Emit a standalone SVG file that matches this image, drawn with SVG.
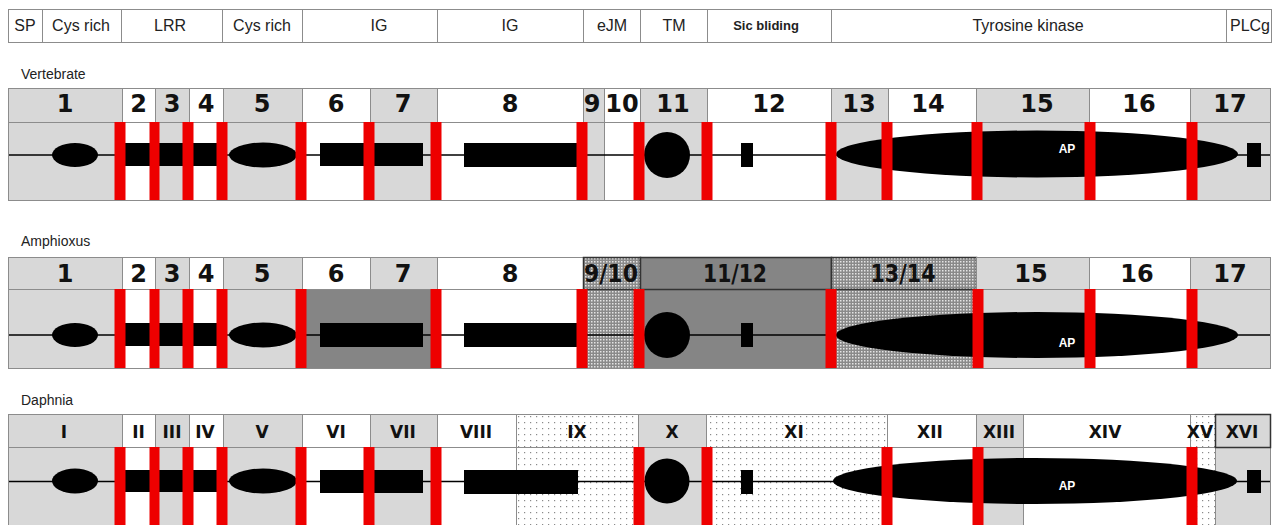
<svg xmlns="http://www.w3.org/2000/svg" width="1276" height="525" viewBox="0 0 1276 525">
<style>
.g{fill:#d8d8d8;stroke:#8c8c8c;stroke-width:1}
.w{fill:#fff;stroke:#8c8c8c;stroke-width:1}
.dk{fill:#858585;stroke:#8c8c8c;stroke-width:1}
.dd{fill:url(#dd);stroke:#8c8c8c;stroke-width:1}
.ld{fill:url(#ld);stroke:#8c8c8c;stroke-width:1}
.bd{stroke:#333;stroke-width:1.5}
.hd{font-family:"Liberation Sans",Arial,sans-serif;font-size:16px;text-anchor:middle;fill:#222}
.lab{font-family:"Liberation Sans",Arial,sans-serif;font-size:14px;fill:#222}
.num{font-family:"DejaVu Sans",sans-serif;font-weight:bold;font-size:24px;text-anchor:middle;fill:#111}
.rom{font-family:"DejaVu Sans",sans-serif;font-weight:bold;font-size:17px;text-anchor:middle;fill:#111}
.ap{font-family:"Liberation Sans",Arial,sans-serif;font-weight:bold;font-size:12px;text-anchor:middle;fill:#fff}
.red{fill:#ee0000}
.blk{fill:#000}
.ln{stroke:#000;stroke-width:1.5;fill:none}
</style>
<defs>
<pattern id="dd" width="3" height="3" patternUnits="userSpaceOnUse"><rect width="3" height="3" fill="#8a8a8a"/><rect width="1.5" height="1.5" fill="#e4e4e4"/></pattern>
<pattern id="ld" width="6" height="6" patternUnits="userSpaceOnUse"><rect width="6" height="6" fill="#fff"/><rect x="2" y="2" width="1.2" height="1.2" fill="#8a8a8a"/></pattern>
</defs>
<rect width="1276" height="525" fill="#fff"/>

<!-- Domain header -->
<g id="domains">
<g id="d-sp"><rect class="w" x="8.5" y="9.5" width="34" height="33"/><text class="hd" x="25" y="31">SP</text></g>
<g id="d-cys1"><rect class="w" x="42.5" y="9.5" width="79" height="33"/><text class="hd" x="81" y="31">Cys rich</text></g>
<g id="d-lrr"><rect class="w" x="121.5" y="9.5" width="101" height="33"/><text class="hd" x="170" y="31">LRR</text></g>
<g id="d-cys2"><rect class="w" x="222.5" y="9.5" width="80" height="33"/><text class="hd" x="262" y="31">Cys rich</text></g>
<g id="d-ig1"><rect class="w" x="302.5" y="9.5" width="135" height="33"/><text class="hd" x="379" y="31">IG</text></g>
<g id="d-ig2"><rect class="w" x="437.5" y="9.5" width="146" height="33"/><text class="hd" x="510" y="31">IG</text></g>
<g id="d-ejm"><rect class="w" x="583.5" y="9.5" width="57" height="33"/><text class="hd" x="612" y="31">eJM</text></g>
<g id="d-tm"><rect class="w" x="640.5" y="9.5" width="67" height="33"/><text class="hd" x="674" y="31">TM</text></g>
<g id="d-sic"><rect class="w" x="707.5" y="9.5" width="124" height="33"/><text class="hd" x="766" y="30" style="font-weight:bold;font-size:13px">Sic bliding</text></g>
<g id="d-tk"><rect class="w" x="831.5" y="9.5" width="395" height="33"/><text class="hd" x="1028" y="31">Tyrosine kinase</text></g>
<g id="d-plcg"><rect class="w" x="1226.5" y="9.5" width="45" height="33"/><text class="hd" x="1250" y="31">PLCg</text></g>
</g>

<text class="lab" x="21" y="79">Vertebrate</text>
<text class="lab" x="21" y="246">Amphioxus</text>
<text class="lab" x="21" y="405">Daphnia</text>

<!-- Vertebrate -->
<g id="vertebrate">
<g id="v-1"><rect class="g" x="8.5" y="88.5" width="114" height="34"/><rect class="g" x="8.5" y="122.5" width="114" height="78"/><text class="num" x="65" y="112">1</text></g>
<g id="v-2"><rect class="w" x="122.5" y="88.5" width="33" height="34"/><rect class="w" x="122.5" y="122.5" width="33" height="78"/><text class="num" x="138.5" y="112">2</text></g>
<g id="v-3"><rect class="g" x="155.5" y="88.5" width="34" height="34"/><rect class="g" x="155.5" y="122.5" width="34" height="78"/><text class="num" x="172" y="112">3</text></g>
<g id="v-4"><rect class="w" x="189.5" y="88.5" width="34" height="34"/><rect class="w" x="189.5" y="122.5" width="34" height="78"/><text class="num" x="206" y="112">4</text></g>
<g id="v-5"><rect class="g" x="223.5" y="88.5" width="79" height="34"/><rect class="g" x="223.5" y="122.5" width="79" height="78"/><text class="num" x="262" y="112">5</text></g>
<g id="v-6"><rect class="w" x="302.5" y="88.5" width="68" height="34"/><rect class="w" x="302.5" y="122.5" width="68" height="78"/><text class="num" x="336" y="112">6</text></g>
<g id="v-7"><rect class="g" x="370.5" y="88.5" width="67" height="34"/><rect class="g" x="370.5" y="122.5" width="67" height="78"/><text class="num" x="403" y="112">7</text></g>
<g id="v-8"><rect class="w" x="437.5" y="88.5" width="146" height="34"/><rect class="w" x="437.5" y="122.5" width="146" height="78"/><text class="num" x="510" y="112">8</text></g>
<g id="v-9"><rect class="g" x="583.5" y="88.5" width="21" height="34"/><rect class="g" x="583.5" y="122.5" width="21" height="78"/><text class="num" x="592" y="112">9</text></g>
<g id="v-10"><rect class="w" x="604.5" y="88.5" width="36" height="34"/><rect class="w" x="604.5" y="122.5" width="36" height="78"/><text class="num" x="622" y="112">10</text></g>
<g id="v-11"><rect class="g" x="640.5" y="88.5" width="67" height="34"/><rect class="g" x="640.5" y="122.5" width="67" height="78"/><text class="num" x="673" y="112">11</text></g>
<g id="v-12"><rect class="w" x="707.5" y="88.5" width="124" height="34"/><rect class="w" x="707.5" y="122.5" width="124" height="78"/><text class="num" x="769" y="112">12</text></g>
<g id="v-13"><rect class="g" x="831.5" y="88.5" width="57" height="34"/><rect class="g" x="831.5" y="122.5" width="57" height="78"/><text class="num" x="859" y="112">13</text></g>
<g id="v-14"><rect class="w" x="888.5" y="88.5" width="88" height="34"/><rect class="w" x="888.5" y="122.5" width="88" height="78"/><text class="num" x="928" y="112">14</text></g>
<g id="v-15"><rect class="g" x="976.5" y="88.5" width="113" height="34"/><rect class="g" x="976.5" y="122.5" width="113" height="78"/><text class="num" x="1037" y="112">15</text></g>
<g id="v-16"><rect class="w" x="1089.5" y="88.5" width="101" height="34"/><rect class="w" x="1089.5" y="122.5" width="101" height="78"/><text class="num" x="1139" y="112">16</text></g>
<g id="v-17"><rect class="g" x="1190.5" y="88.5" width="80" height="34"/><rect class="g" x="1190.5" y="122.5" width="80" height="78"/><text class="num" x="1230" y="112">17</text></g>
</g>

<!-- Amphioxus -->
<g id="amphioxus">
<g id="a-1"><rect class="g" x="8.5" y="257.5" width="114" height="32"/><rect class="g" x="8.5" y="289.5" width="114" height="79"/><text class="num" x="65" y="282">1</text></g>
<g id="a-2"><rect class="w" x="122.5" y="257.5" width="33" height="32"/><rect class="w" x="122.5" y="289.5" width="33" height="79"/><text class="num" x="138.5" y="282">2</text></g>
<g id="a-3"><rect class="g" x="155.5" y="257.5" width="34" height="32"/><rect class="g" x="155.5" y="289.5" width="34" height="79"/><text class="num" x="172" y="282">3</text></g>
<g id="a-4"><rect class="w" x="189.5" y="257.5" width="34" height="32"/><rect class="w" x="189.5" y="289.5" width="34" height="79"/><text class="num" x="206" y="282">4</text></g>
<g id="a-5"><rect class="g" x="223.5" y="257.5" width="79" height="32"/><rect class="g" x="223.5" y="289.5" width="79" height="79"/><text class="num" x="262" y="282">5</text></g>
<g id="a-6"><rect class="w" x="302.5" y="257.5" width="68" height="32"/><rect class="dk" x="302.5" y="289.5" width="135" height="79"/><text class="num" x="336" y="282">6</text></g>
<g id="a-7"><rect class="g" x="370.5" y="257.5" width="67" height="32"/><text class="num" x="403" y="282">7</text></g>
<g id="a-8"><rect class="w" x="437.5" y="257.5" width="146" height="32"/><rect class="w" x="437.5" y="289.5" width="146" height="79"/><text class="num" x="510" y="282">8</text></g>
<g id="a-9-10"><rect class="dd" x="583.5" y="289.5" width="57" height="79"/><rect class="dd bd" x="583.5" y="257.5" width="57" height="32"/><text class="num" x="611" y="282" textLength="54" lengthAdjust="spacingAndGlyphs">9/10</text></g>
<g id="a-11-12"><rect class="dk" x="640.5" y="289.5" width="191" height="79"/><rect class="dk bd" x="640.5" y="257.5" width="191" height="32"/><text class="num" x="735" y="282" textLength="64" lengthAdjust="spacingAndGlyphs">11/12</text></g>
<g id="a-13-14"><rect class="dd" x="831.5" y="289.5" width="145" height="79"/><rect class="dd bd" x="831.5" y="257.5" width="145" height="32"/><text class="num" x="903" y="282" textLength="65" lengthAdjust="spacingAndGlyphs">13/14</text></g>
<g id="a-15"><rect class="g" x="976.5" y="257.5" width="113" height="32"/><rect class="g" x="976.5" y="289.5" width="113" height="79"/><text class="num" x="1031" y="282">15</text></g>
<g id="a-16"><rect class="w" x="1089.5" y="257.5" width="101" height="32"/><rect class="w" x="1089.5" y="289.5" width="101" height="79"/><text class="num" x="1137" y="282">16</text></g>
<g id="a-17"><rect class="g" x="1190.5" y="257.5" width="80" height="32"/><rect class="g" x="1190.5" y="289.5" width="80" height="79"/><text class="num" x="1230" y="282">17</text></g>
</g>

<!-- Daphnia -->
<g id="daphnia">
<g id="d-I"><rect class="g" x="8.5" y="414.5" width="114" height="33"/><rect class="g" x="8.5" y="447.5" width="114" height="90"/><text class="rom" x="64" y="438">I</text></g>
<g id="d-II"><rect class="w" x="122.5" y="414.5" width="33" height="33"/><rect class="w" x="122.5" y="447.5" width="33" height="90"/><text class="rom" x="138.5" y="438">II</text></g>
<g id="d-III"><rect class="g" x="155.5" y="414.5" width="34" height="33"/><rect class="g" x="155.5" y="447.5" width="34" height="90"/><text class="rom" x="172" y="438">III</text></g>
<g id="d-IV"><rect class="w" x="189.5" y="414.5" width="34" height="33"/><rect class="w" x="189.5" y="447.5" width="34" height="90"/><text class="rom" x="205" y="438">IV</text></g>
<g id="d-V"><rect class="g" x="223.5" y="414.5" width="79" height="33"/><rect class="g" x="223.5" y="447.5" width="79" height="90"/><text class="rom" x="262" y="438">V</text></g>
<g id="d-VI"><rect class="w" x="302.5" y="414.5" width="68" height="33"/><rect class="w" x="302.5" y="447.5" width="68" height="90"/><text class="rom" x="336" y="438">VI</text></g>
<g id="d-VII"><rect class="g" x="370.5" y="414.5" width="67" height="33"/><rect class="g" x="370.5" y="447.5" width="67" height="90"/><text class="rom" x="403" y="438">VII</text></g>
<g id="d-VIII"><rect class="w" x="437.5" y="414.5" width="79" height="33"/><rect class="w" x="437.5" y="447.5" width="79" height="90"/><text class="rom" x="476" y="438">VIII</text></g>
<g id="d-IX"><rect class="ld" x="516.5" y="414.5" width="122" height="33"/><rect class="ld" x="516.5" y="447.5" width="122" height="90"/><text class="rom" x="577" y="438">IX</text></g>
<g id="d-X"><rect class="g" x="638.5" y="414.5" width="68" height="33"/><rect class="g" x="638.5" y="447.5" width="68" height="90"/><text class="rom" x="672" y="438">X</text></g>
<g id="d-XI"><rect class="ld" x="706.5" y="414.5" width="181" height="33"/><rect class="ld" x="706.5" y="447.5" width="181" height="90"/><text class="rom" x="794" y="438">XI</text></g>
<g id="d-XII"><rect class="w" x="887.5" y="414.5" width="89" height="33"/><rect class="w" x="887.5" y="447.5" width="89" height="90"/><text class="rom" x="930" y="438">XII</text></g>
<g id="d-XIII"><rect class="g" x="976.5" y="414.5" width="47" height="33"/><rect class="g" x="976.5" y="447.5" width="47" height="90"/><text class="rom" x="999" y="438">XIII</text></g>
<g id="d-XIV"><rect class="w" x="1023.5" y="414.5" width="167" height="33"/><rect class="w" x="1023.5" y="447.5" width="167" height="90"/><text class="rom" x="1105" y="438">XIV</text></g>
<g id="d-XV"><rect class="ld" x="1190.5" y="414.5" width="25" height="33"/><rect class="ld" x="1190.5" y="447.5" width="25" height="90"/><text class="rom" x="1200" y="438">XV</text></g>
<g id="d-XVI"><rect class="g" x="1215.5" y="447.5" width="55" height="90"/><rect class="g bd" x="1215.5" y="414.5" width="55" height="33"/><text class="rom" x="1242" y="438">XVI</text></g>
</g>

<!-- Connectors: backbone lines -->
<g id="connectors">
<line class="ln" x1="9" y1="155" x2="1270" y2="155"/>
<line class="ln" x1="9" y1="335" x2="1270" y2="335"/>
<line class="ln" x1="9" y1="481.5" x2="1270" y2="481.5"/>
</g>

<!-- Protein domain shapes -->
<g id="v-shapes" class="blk">
<ellipse cx="75" cy="155" rx="23" ry="12"/>
<rect x="121" y="143" width="100" height="23"/>
<ellipse cx="263" cy="155" rx="34" ry="12.5"/>
<rect x="320" y="143" width="103" height="23"/>
<rect x="464" y="143" width="113" height="24"/>
<circle cx="667" cy="155" r="23"/>
<rect x="741" y="143" width="12" height="24"/>
<ellipse cx="1037" cy="154" rx="201" ry="23.5"/>
<rect x="1247" y="143" width="14" height="24"/>
</g>
<g id="a-shapes" class="blk">
<ellipse cx="75" cy="335" rx="23" ry="12"/>
<rect x="121" y="323" width="100" height="23"/>
<ellipse cx="263" cy="335" rx="34" ry="12.5"/>
<rect x="320" y="323" width="103" height="24"/>
<rect x="464" y="323" width="113" height="24"/>
<circle cx="667" cy="335" r="23"/>
<rect x="741" y="323" width="12" height="24"/>
<ellipse cx="1037" cy="335" rx="201" ry="23"/>
</g>
<g id="d-shapes" class="blk">
<ellipse cx="75" cy="481" rx="23" ry="12.5"/>
<rect x="121" y="470" width="100" height="22"/>
<ellipse cx="263" cy="481" rx="34" ry="12.5"/>
<rect x="320" y="470" width="103" height="23"/>
<rect x="464" y="470" width="114" height="24"/>
<circle cx="667" cy="481" r="22.5"/>
<rect x="741" y="470" width="12" height="24"/>
<ellipse cx="1035" cy="481" rx="202" ry="23"/>
<rect x="1247" y="470" width="14" height="23"/>
</g>

<!-- Introns (red bars) -->
<g id="v-introns" class="red">
<rect x="114.5" y="122" width="11" height="78"/>
<rect x="149.5" y="122" width="10" height="78"/>
<rect x="182.5" y="122" width="11" height="78"/>
<rect x="216.5" y="122" width="11" height="78"/>
<rect x="295.5" y="122" width="11" height="78"/>
<rect x="363.5" y="122" width="11" height="78"/>
<rect x="430.5" y="122" width="11" height="78"/>
<rect x="576.5" y="122" width="11" height="78"/>
<rect x="633.5" y="122" width="11" height="78"/>
<rect x="701.5" y="122" width="11" height="78"/>
<rect x="825.5" y="122" width="11" height="78"/>
<rect x="881.5" y="122" width="11" height="78"/>
<rect x="971.5" y="122" width="11" height="78"/>
<rect x="1084.5" y="122" width="11" height="78"/>
<rect x="1186.5" y="122" width="11" height="78"/>
</g>
<g id="a-introns" class="red">
<rect x="114.5" y="289" width="11" height="79"/>
<rect x="149.5" y="289" width="10" height="79"/>
<rect x="182.5" y="289" width="11" height="79"/>
<rect x="216.5" y="289" width="11" height="79"/>
<rect x="295.5" y="289" width="11" height="79"/>
<rect x="430.5" y="289" width="11" height="79"/>
<rect x="576.5" y="289" width="11" height="79"/>
<rect x="633.5" y="289" width="11" height="79"/>
<rect x="825.5" y="289" width="11" height="79"/>
<rect x="972.5" y="289" width="11" height="79"/>
<rect x="1084.5" y="289" width="11" height="79"/>
<rect x="1186.5" y="289" width="11" height="79"/>
</g>
<g id="d-introns" class="red">
<rect x="114.5" y="447" width="11" height="80"/>
<rect x="149.5" y="447" width="10" height="80"/>
<rect x="182.5" y="447" width="11" height="80"/>
<rect x="216.5" y="447" width="11" height="80"/>
<rect x="295.5" y="447" width="11" height="80"/>
<rect x="363.5" y="447" width="11" height="80"/>
<rect x="430.5" y="447" width="11" height="80"/>
<rect x="633.5" y="447" width="11" height="80"/>
<rect x="701.5" y="447" width="11" height="80"/>
<rect x="881.5" y="447" width="11" height="80"/>
<rect x="972.5" y="447" width="11" height="80"/>
<rect x="1186.5" y="447" width="11" height="80"/>
</g>

<g id="ap-labels">
<text class="ap" x="1067" y="152.5">AP</text>
<text class="ap" x="1067" y="346.5">AP</text>
<text class="ap" x="1067" y="490">AP</text>
</g>
</svg>
